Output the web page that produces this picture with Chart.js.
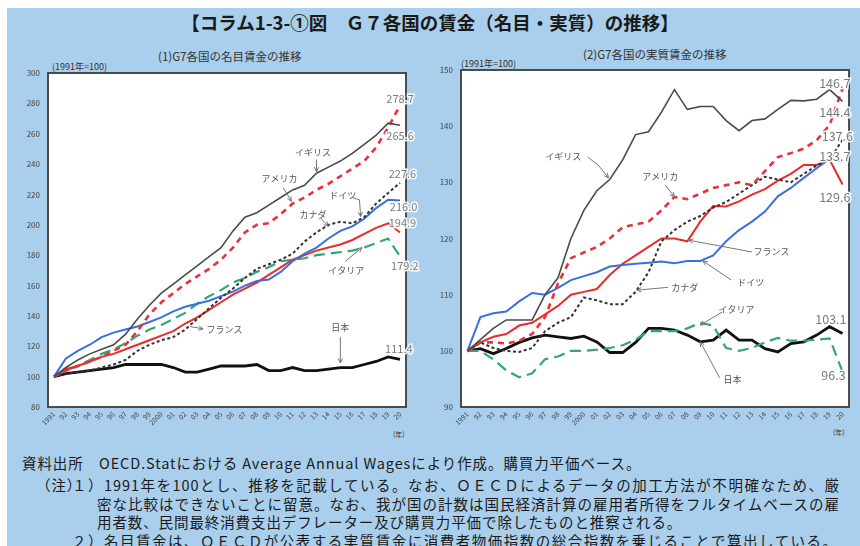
<!DOCTYPE html>
<html><head><meta charset="utf-8">
<script src="https://cdn.jsdelivr.net/npm/chart.js@4.4.1/dist/chart.umd.min.js"></script>
<style>
html,body{margin:0;padding:0;background:#fff;width:860px;height:546px;overflow:hidden;font-family:'Noto Sans CJK JP',sans-serif;}
#bg{position:absolute;left:7px;top:8px;width:853px;height:538px;background:#aacfec;}
.t{position:absolute;white-space:nowrap;color:#222;}
canvas{position:absolute;}
.n{position:absolute;white-space:nowrap;font-size:14.5px;color:#1a1a1a;letter-spacing:0.9px;}
.j{text-align:justify;text-align-last:justify;}
</style></head><body>
<div id="bg"></div>
<div class="t" style="left:0;width:860px;top:9px;text-align:center;font-size:18.5px;font-weight:bold;color:#1a1a1a;">【コラム1-3-①図　Ｇ７各国の賃金（名目・実質）の推移】</div>
<div class="t" style="left:158px;top:48px;font-size:11.5px;color:#333;">(1)G7各国の名目賃金の推移</div>
<div class="t" style="left:52px;top:60px;font-size:9px;color:#333;">(1991年=100)</div>
<div class="t" style="left:583px;top:46px;font-size:11.5px;color:#333;">(2)G7各国の実質賃金の推移</div>
<div class="t" style="left:461px;top:57px;font-size:9px;color:#333;">(1991年=100)</div>
<div class="t" style="left:393px;top:429px;font-size:7px;color:#333;">(年)</div>
<div class="t" style="left:833px;top:427px;font-size:7px;color:#333;">(年)</div>
<canvas id="c1" style="left:0;top:60px;"></canvas>
<canvas id="c2" style="left:420px;top:57px;"></canvas>
<div class="n" style="left:22px;top:452px;">資料出所　OECD.Statにおける Average Annual Wagesにより作成。購買力平価ベース。</div>
<div class="n" style="left:36px;top:474px;">（注）</div>
<div class="n j" style="left:72px;top:474px;width:768px;">１）1991年を100とし、推移を記載している。なお、ＯＥＣＤによるデータの加工方法が不明確なため、厳</div>
<div class="n j" style="left:97px;top:493px;width:743px;">密な比較はできないことに留意。なお、我が国の計数は国民経済計算の雇用者所得をフルタイムベースの雇</div>
<div class="n" style="left:97px;top:511px;">用者数、民間最終消費支出デフレーター及び購買力平価で除したものと推察される。</div>
<div class="n j" style="left:72px;top:530px;width:766px;">２）名目賃金は、ＯＥＣＤが公表する実質賃金に消費者物価指数の総合指数を乗じることで算出している。</div>
<script>
const years = ['1991','92','93','94','95','96','97','98','99','2000','01','02','03','04','05','06','07','08','09','10','11','12','13','14','15','16','17','18','19','20'];

// (1) nominal wages, 1991=100
const nomUK = [100,106,111,115,118,121,128,138,147,155,161,167,173,179,185,196,205,208,213,218,223,226,234,238,242,247,253,259,267,265.6];
const nomUS = [100,104,107,110,113,117,121,130,141,149,155,161,166,171,177,185,195,200,201,207,214,218,223,227,232,237,242,251,264,278.7];
const nomCA = [100,102,103,104,106,108,111,117,121,124,126,131,138,145,152,158,165,171,174,177,181,189,195,200,202,201,205,214,221,227.6];
const nomDE = [100,112,117,121,126,129,131,133,136,139,143,146,148,150,153,156,160,163,164,169,176,181,185,191,196,199,204,211,216.5,216.0];
const nomFR = [100,105,107,110,113,115,118,121,124,127,130,135,139,144,149,154,158,162,167,172,177,180,183,185,187,190,194,198,201,194.9];
const nomIT = [100,104,107,111,115,118,122,127,131,134,138,142,148,153,157,162,165,169,172,176,177,178,180,181,182,183,185,188,191,179.2];
const nomJP = [100,102,103,104,105,106,108,108,108,108,106,103,103,105,107,107,107,108,104,104,106,104,104,105,106,106,108,110,113,111.4];

// (2) real wages, 1991=100
const realUK = [100,102,104,105.5,105.5,105.5,110,113,120,125,128.5,130.5,134,138.5,139,142.5,146.5,143,143.5,143.5,141,139.2,141,141.3,143,144.6,144.5,144.8,146.5,144.4];
const realUS = [100,101.5,101.5,101.3,101.8,103,106,112,116.5,117.5,118.5,120,122,122.5,123,125,127.4,127,128,129,129.5,130,129.5,132,134.5,135.2,136,137.5,140.2,146.7];
const realCA = [100,101.5,100.5,100,99.8,100.5,103.5,105,106,109.5,109,108.3,108.3,110.5,114,119.5,121.5,123,124,125.5,126.5,128,129.5,131,130.5,130,131.5,133,134,137.6];
const realDE = [100,106,106.7,107,108.8,110.3,110,111.2,112.6,113.3,114,115,115.3,115.5,115.7,115.9,115.6,116,116,117,119.5,121.5,123,124.8,127.5,129,130.8,132.5,134.2,133.7];
const realFR = [100,101.5,102.5,103,104.5,105,106.5,108,110,110.5,111,113.5,115.5,117,118.5,120,120,119.5,123,125.8,125.7,126.6,127.8,128.8,130.3,131.5,133.1,133.1,134,129.6];
const realIT = [100,100,98.5,96.5,95.3,96,98.5,99,100,100,100.2,100.5,101,102,103.5,103.5,103.5,104,105,104.5,100.5,100,100.5,101.5,102.3,101.8,101.8,102,102.2,96.3];
const realJP = [100,100.4,99.5,100.4,101.5,102.3,102.8,102.5,102.2,102.6,101.6,99.7,99.7,101.5,104,104,103.7,102.8,101.6,101.9,103.7,101.9,101.9,100.4,99.8,101.3,101.6,102.8,104.3,103.1];

const countries = ['イギリス','アメリカ','カナダ','ドイツ','フランス','イタリア','日本'];

// annotation placement (data coordinates: category index, value)
const leftNotes = [
  ['278.7',29,283,'v'],['265.6',29,258.8,'v'],['227.6',29.2,233.7,'v'],['216.0',29.3,212,'v'],
  ['194.9',29.2,201.4,'v'],['179.2',29.4,173,'v'],['111.4',28.9,118.4,'v'],
  ['イギリス',21.7,247.6,'c'],['アメリカ',18.9,230.4,'c'],['ドイツ',24.2,219.2,'c'],['カナダ',21.7,207,'c'],
  ['イタリア',24.5,170,'c'],['フランス',14.3,131,'c'],['日本',24,132,'c']
];
const leftArrows = [
  [[22,243],[22,235]], [[19.2,224.5],[19.9,215.5]], [[25.0,218],[25.6,216.5],[25.7,205.5]],
  [[22.4,204],[23.0,199]], [[24.4,175.8],[25.8,185]], [[11.4,133],[12.5,131.5]], [[24,126],[24,109]]
];
const rightNotes = [
  ['146.7',28.4,147.7,'v'],['144.4',28.4,142.5,'v'],['137.6',28.6,138.2,'v'],['133.7',28.4,134.7,'v'],
  ['129.6',28.4,127.4,'v'],['103.1',28.1,105.7,'v'],['96.3',28.3,95.7,'v'],
  ['イギリス',7.4,134.5,'c'],['アメリカ',14.9,131.1,'c'],['フランス',23.5,117.6,'c'],['ドイツ',21.9,112.1,'c'],
  ['カナダ',16.8,111.2,'c'],['イタリア',20.8,107.3,'c'],['日本',20.5,94.8,'c']
];
const rightArrows = [
  [[9.3,134.5],[10.1,133.1],[10.9,130.8]], [[15.3,129.5],[16.0,127.4]], [[22.0,117.6],[17.1,119.7]],
  [[20.4,112.6],[18.2,116]], [[15.5,111.3],[13.1,110.8]], [[19.7,106.9],[18.0,104.6]], [[19.5,95.2],[18.0,101.6]]
];

const styles = [
  {borderColor:'#4a4a4a',borderWidth:1.6,borderDash:[]},
  {borderColor:'#e8323a',borderWidth:2.6,borderDash:[6,5]},
  {borderColor:'#333333',borderWidth:2,borderDash:[3,2.5]},
  {borderColor:'#3a6fe0',borderWidth:2,borderDash:[]},
  {borderColor:'#ea2b2b',borderWidth:2,borderDash:[]},
  {borderColor:'#2fa878',borderWidth:2.2,borderDash:[11,6]},
  {borderColor:'#111111',borderWidth:2.8,borderDash:[]}
];

Chart.defaults.font.family = "'Noto Sans CJK JP','Noto Sans',sans-serif";
Chart.defaults.animation = false;

const areaPlugin = {
  id:'area',
  beforeDatasetsDraw(chart){
    const a = chart.chartArea, ctx = chart.ctx;
    ctx.save(); ctx.fillStyle = '#ffffff'; ctx.fillRect(a.left,a.top,a.right-a.left,a.bottom-a.top); ctx.restore();
  },
  afterDatasetsDraw(chart){
    const a = chart.chartArea, ctx = chart.ctx;
    ctx.save(); ctx.strokeStyle = '#3c3c3c'; ctx.lineWidth = 1.8;
    ctx.strokeRect(a.left,a.top,a.right-a.left,a.bottom-a.top); ctx.restore();
  },
  afterDraw(chart){
    const o = chart.options.plugins.notes; if(!o) return;
    const ctx = chart.ctx, xs = chart.scales.x, ys = chart.scales.y;
    const px = i => xs.getPixelForValue(0) + i*(xs.getPixelForValue(1)-xs.getPixelForValue(0));
    ctx.save();
    ctx.strokeStyle = '#777'; ctx.lineWidth = 1;
    o.arrows.forEach(path => {
      ctx.beginPath();
      path.forEach((p,k)=>{ const X=px(p[0]), Y=ys.getPixelForValue(p[1]); if(k) ctx.lineTo(X,Y); else ctx.moveTo(X,Y); });
      ctx.stroke();
      const n = path.length, p1 = path[n-2], p2 = path[n-1];
      const x1=px(p1[0]), y1=ys.getPixelForValue(p1[1]), x2=px(p2[0]), y2=ys.getPixelForValue(p2[1]);
      const ang = Math.atan2(y2-y1,x2-x1);
      ctx.beginPath();
      ctx.moveTo(x2-5*Math.cos(ang-0.45), y2-5*Math.sin(ang-0.45));
      ctx.lineTo(x2,y2);
      ctx.lineTo(x2-5*Math.cos(ang+0.45), y2-5*Math.sin(ang+0.45));
      ctx.stroke();
    });
    ctx.textAlign='center'; ctx.textBaseline='middle';
    o.items.forEach(it => {
      const X = px(it[1]), Y = ys.getPixelForValue(it[2]);
      if(it[3]==='v'){
        ctx.font = o.vfont; ctx.lineWidth = 3; ctx.strokeStyle='rgba(255,255,255,0.9)';
        ctx.strokeText(it[0],X,Y); ctx.fillStyle = '#7a7a7a'; ctx.fillText(it[0],X,Y);
      } else {
        ctx.font = o.cfont; ctx.fillStyle = '#555'; ctx.fillText(it[0],X,Y);
      }
    });
    ctx.restore();
  }
};

function makeChart(id, w, h, series, yMin, yMax, step, yW, pad, notes, arrows, vfont){
  const cv = document.getElementById(id);
  cv.width = w; cv.height = h; cv.style.width = w+'px'; cv.style.height = h+'px';
  return new Chart(cv, {
    type:'line',
    data:{ labels: years, datasets: series.map((d,k)=>Object.assign({label:countries[k],data:d,pointRadius:0,fill:false,tension:0,borderCapStyle:'butt'},styles[k])) },
    options:{
      responsive:false, maintainAspectRatio:false, devicePixelRatio:1,
      layout:{padding:pad},
      plugins:{legend:{display:false},tooltip:{enabled:false},notes:{items:notes,arrows:arrows,vfont:vfont,cfont:'9px "Noto Sans CJK JP"'}},
      scales:{
        x:{offset:true,grid:{display:false,drawTicks:false},border:{display:false},
           ticks:{autoSkip:false,maxRotation:45,minRotation:45,color:'#444',font:{size:7},padding:3},
           afterFit(s){ s.height = 28; }},
        y:{min:yMin,max:yMax,grid:{display:false,drawTicks:false},border:{display:false},
           ticks:{stepSize:step,color:'#444',font:{size:8},padding:8},
           afterFit(s){ s.width = yW; }}
      }
    },
    plugins:[areaPlugin]
  });
}

makeChart('c1',430,375,[nomUK,nomUS,nomCA,nomDE,nomFR,nomIT,nomJP],80,300,20,48,{top:13,right:24,bottom:0,left:0},leftNotes,leftArrows,'11px "Noto Sans CJK JP"');
makeChart('c2',440,378,[realUK,realUS,realCA,realDE,realFR,realIT,realJP],90,150,10,41,{top:13,right:11,bottom:0,left:0},rightNotes,rightArrows,'12.5px "Noto Sans CJK JP"');
</script>
</body></html>
